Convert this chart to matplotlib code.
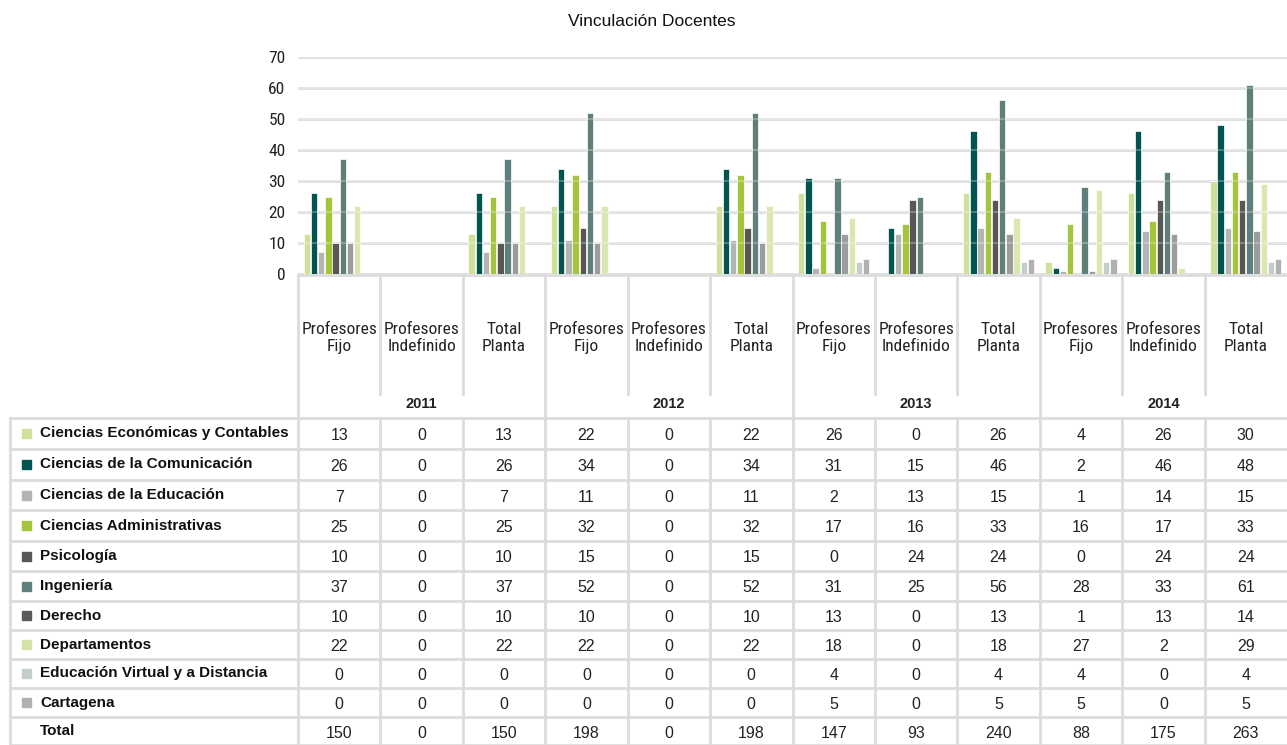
import matplotlib
matplotlib.use("Agg")
import matplotlib.pyplot as plt
import numpy as np
from matplotlib.patches import Rectangle
from matplotlib import font_manager as fm

plt.rcParams['font.family'] = ['Liberation Sans', 'DejaVu Sans']

title = "Vinculación Docentes"
years = ["2011", "2012", "2013", "2014"]
subcats = ["Profesores\nFijo", "Profesores\nIndefinido", "Total\nPlanta"]
categories = [s for y in years for s in subcats]

series_names = [
    "Ciencias Económicas y Contables",
    "Ciencias de la Comunicación",
    "Ciencias de la Educación",
    "Ciencias Administrativas",
    "Psicología",
    "Ingeniería",
    "Derecho",
    "Departamentos",
    "Educación Virtual y a Distancia",
    "Cartagena",
]
econ = [13, 0, 13, 22, 0, 22, 26, 0, 26, 4, 26, 30]
comu = [26, 0, 26, 34, 0, 34, 31, 15, 46, 2, 46, 48]
educ = [7, 0, 7, 11, 0, 11, 2, 13, 15, 1, 14, 15]
admi = [25, 0, 25, 32, 0, 32, 17, 16, 33, 16, 17, 33]
psic = [10, 0, 10, 15, 0, 15, 0, 24, 24, 0, 24, 24]
inge = [37, 0, 37, 52, 0, 52, 31, 25, 56, 28, 33, 61]
dere = [10, 0, 10, 10, 0, 10, 13, 0, 13, 1, 13, 14]
dept = [22, 0, 22, 22, 0, 22, 18, 0, 18, 27, 2, 29]
evir = [0, 0, 0, 0, 0, 0, 4, 0, 4, 4, 0, 4]
cart = [0, 0, 0, 0, 0, 0, 5, 0, 5, 5, 0, 5]
total = [150, 0, 150, 198, 0, 198, 147, 93, 240, 88, 175, 263]
series = [econ, comu, educ, admi, psic, inge, dere, dept, evir, cart]
colors = ["#cfe09b", "#02554f", "#b4b4b4", "#a4c53b", "#575756",
          "#5f7f7b", "#9c9c9c", "#dbe7b0", "#c3cdcc", "#b1b1b1"]
marker_colors = ["#cfe09b", "#02554f", "#b4b4b4", "#a4c53b", "#575756",
                 "#5f7f7b", "#5a5a5a", "#d5e4a6", "#c3cdcc", "#b1b1b1"]

names = {f.name for f in fm.fontManager.ttflist}
narrow_family = None
for cand in ["Liberation Sans Narrow", "DejaVu Sans Condensed", "Roboto Condensed",
             "Open Sans Condensed"]:
    if cand in names:
        narrow_family = cand
        break
if narrow_family:
    narrow_kw = dict(family=[narrow_family, 'DejaVu Sans'])
else:
    narrow_kw = dict(family=['DejaVu Sans'], fontstretch='condensed')

W, H = 1287, 745
fig = plt.figure(figsize=(W / 100, H / 100), dpi=100)

x0, x1 = 298, 1287
ytop, ybot = 57, 274
colw = (x1 - x0) / len(categories)

def fx(px):
    return px / W

def fy(py):
    return 1 - py / H

ax = fig.add_axes([fx(x0), fy(ybot), fx(x1 - x0), (ybot - ytop) / H])
n = len(series)
step = 0.0875
bw = 0.078
xs = np.arange(len(categories))
for i, (vals, c) in enumerate(zip(series, colors)):
    off = (i - (n - 1) / 2) * step
    ax.bar(xs + off, vals, width=bw, color=c, edgecolor="white", linewidth=0.5, zorder=2)
ax.set_xlim(-0.5, len(categories) - 0.5)
ax.set_ylim(0, 70)
ticks = list(range(0, 71, 10))
ax.set_yticks(ticks)
ax.yaxis.grid(True, color="#dcdcdc", linewidth=2, zorder=0)
ax.set_axisbelow(True)
# faint gridline overlay on top of bars (as in the reference)
ax.hlines(ticks[1:], -0.5, len(categories) - 0.5, color="#ffffff", linewidth=1.5,
          alpha=0.25, zorder=4)
ax.set_xticks([])
for s in ax.spines.values():
    s.set_visible(False)
ax.tick_params(axis="y", length=0, pad=9, labelsize=12.5)
for lab in ax.get_yticklabels():
    lab.set(**narrow_kw)
    lab.set_color("#222222")

tax = fig.add_axes([0, 0, 1, 1], zorder=5)
tax.set_xlim(0, W)
tax.set_ylim(H, 0)
tax.axis("off")
tax.patch.set_alpha(0)

lc = "#dcdcdc"
lw = 2
col_edges = [x0 + i * colw for i in range(len(categories) + 1)]

tax.plot([x0, x1], [275, 275], color=lc, lw=lw)
for i, xe in enumerate(col_edges[:-1]):
    if i % 3 == 0:
        tax.plot([xe, xe], [275, 418], color=lc, lw=lw)
    else:
        tax.plot([xe, xe], [275, 394], color=lc, lw=lw)
for j, c in enumerate(categories):
    tax.text(x0 + (j + 0.5) * colw, 338, c, ha="center", va="center",
             fontsize=12.5, color="#222222", linespacing=1.12, **narrow_kw)
for k, y in enumerate(years):
    tax.text(x0 + (3 * k + 1.5) * colw, 404, y, ha="center", va="center",
             fontsize=10.5, fontweight="bold", color="#222222")

row_edges = [418, 449, 480, 510, 541, 571, 601, 630, 659, 688, 717, 745]
for ye in row_edges:
    tax.plot([10, x1], [ye, ye], color=lc, lw=lw)
for xe in [10] + col_edges[:-1]:
    tax.plot([xe, xe], [418, 745], color=lc, lw=lw)

row_labels = series_names + ["Total"]
row_values = series + [total]
for r, (lab, vals) in enumerate(zip(row_labels, row_values)):
    yc = (row_edges[r] + row_edges[r + 1]) / 2
    if r < len(marker_colors):
        tax.add_patch(Rectangle((22, yc - 4.5), 9, 9, color=marker_colors[r]))
    tax.text(40, yc, lab, ha="left", va="center", fontsize=11,
             fontweight="bold", color="#111111")
    for j, v in enumerate(vals):
        tax.text(x0 + (j + 0.5) * colw, yc + 2, str(v), ha="center", va="center",
                 fontsize=11.5, color="#222222")

fig.text(fx(652), fy(21), title, ha="center", va="center", fontsize=12.5, color="#111111")

fig.savefig("out.png", dpi=100)
